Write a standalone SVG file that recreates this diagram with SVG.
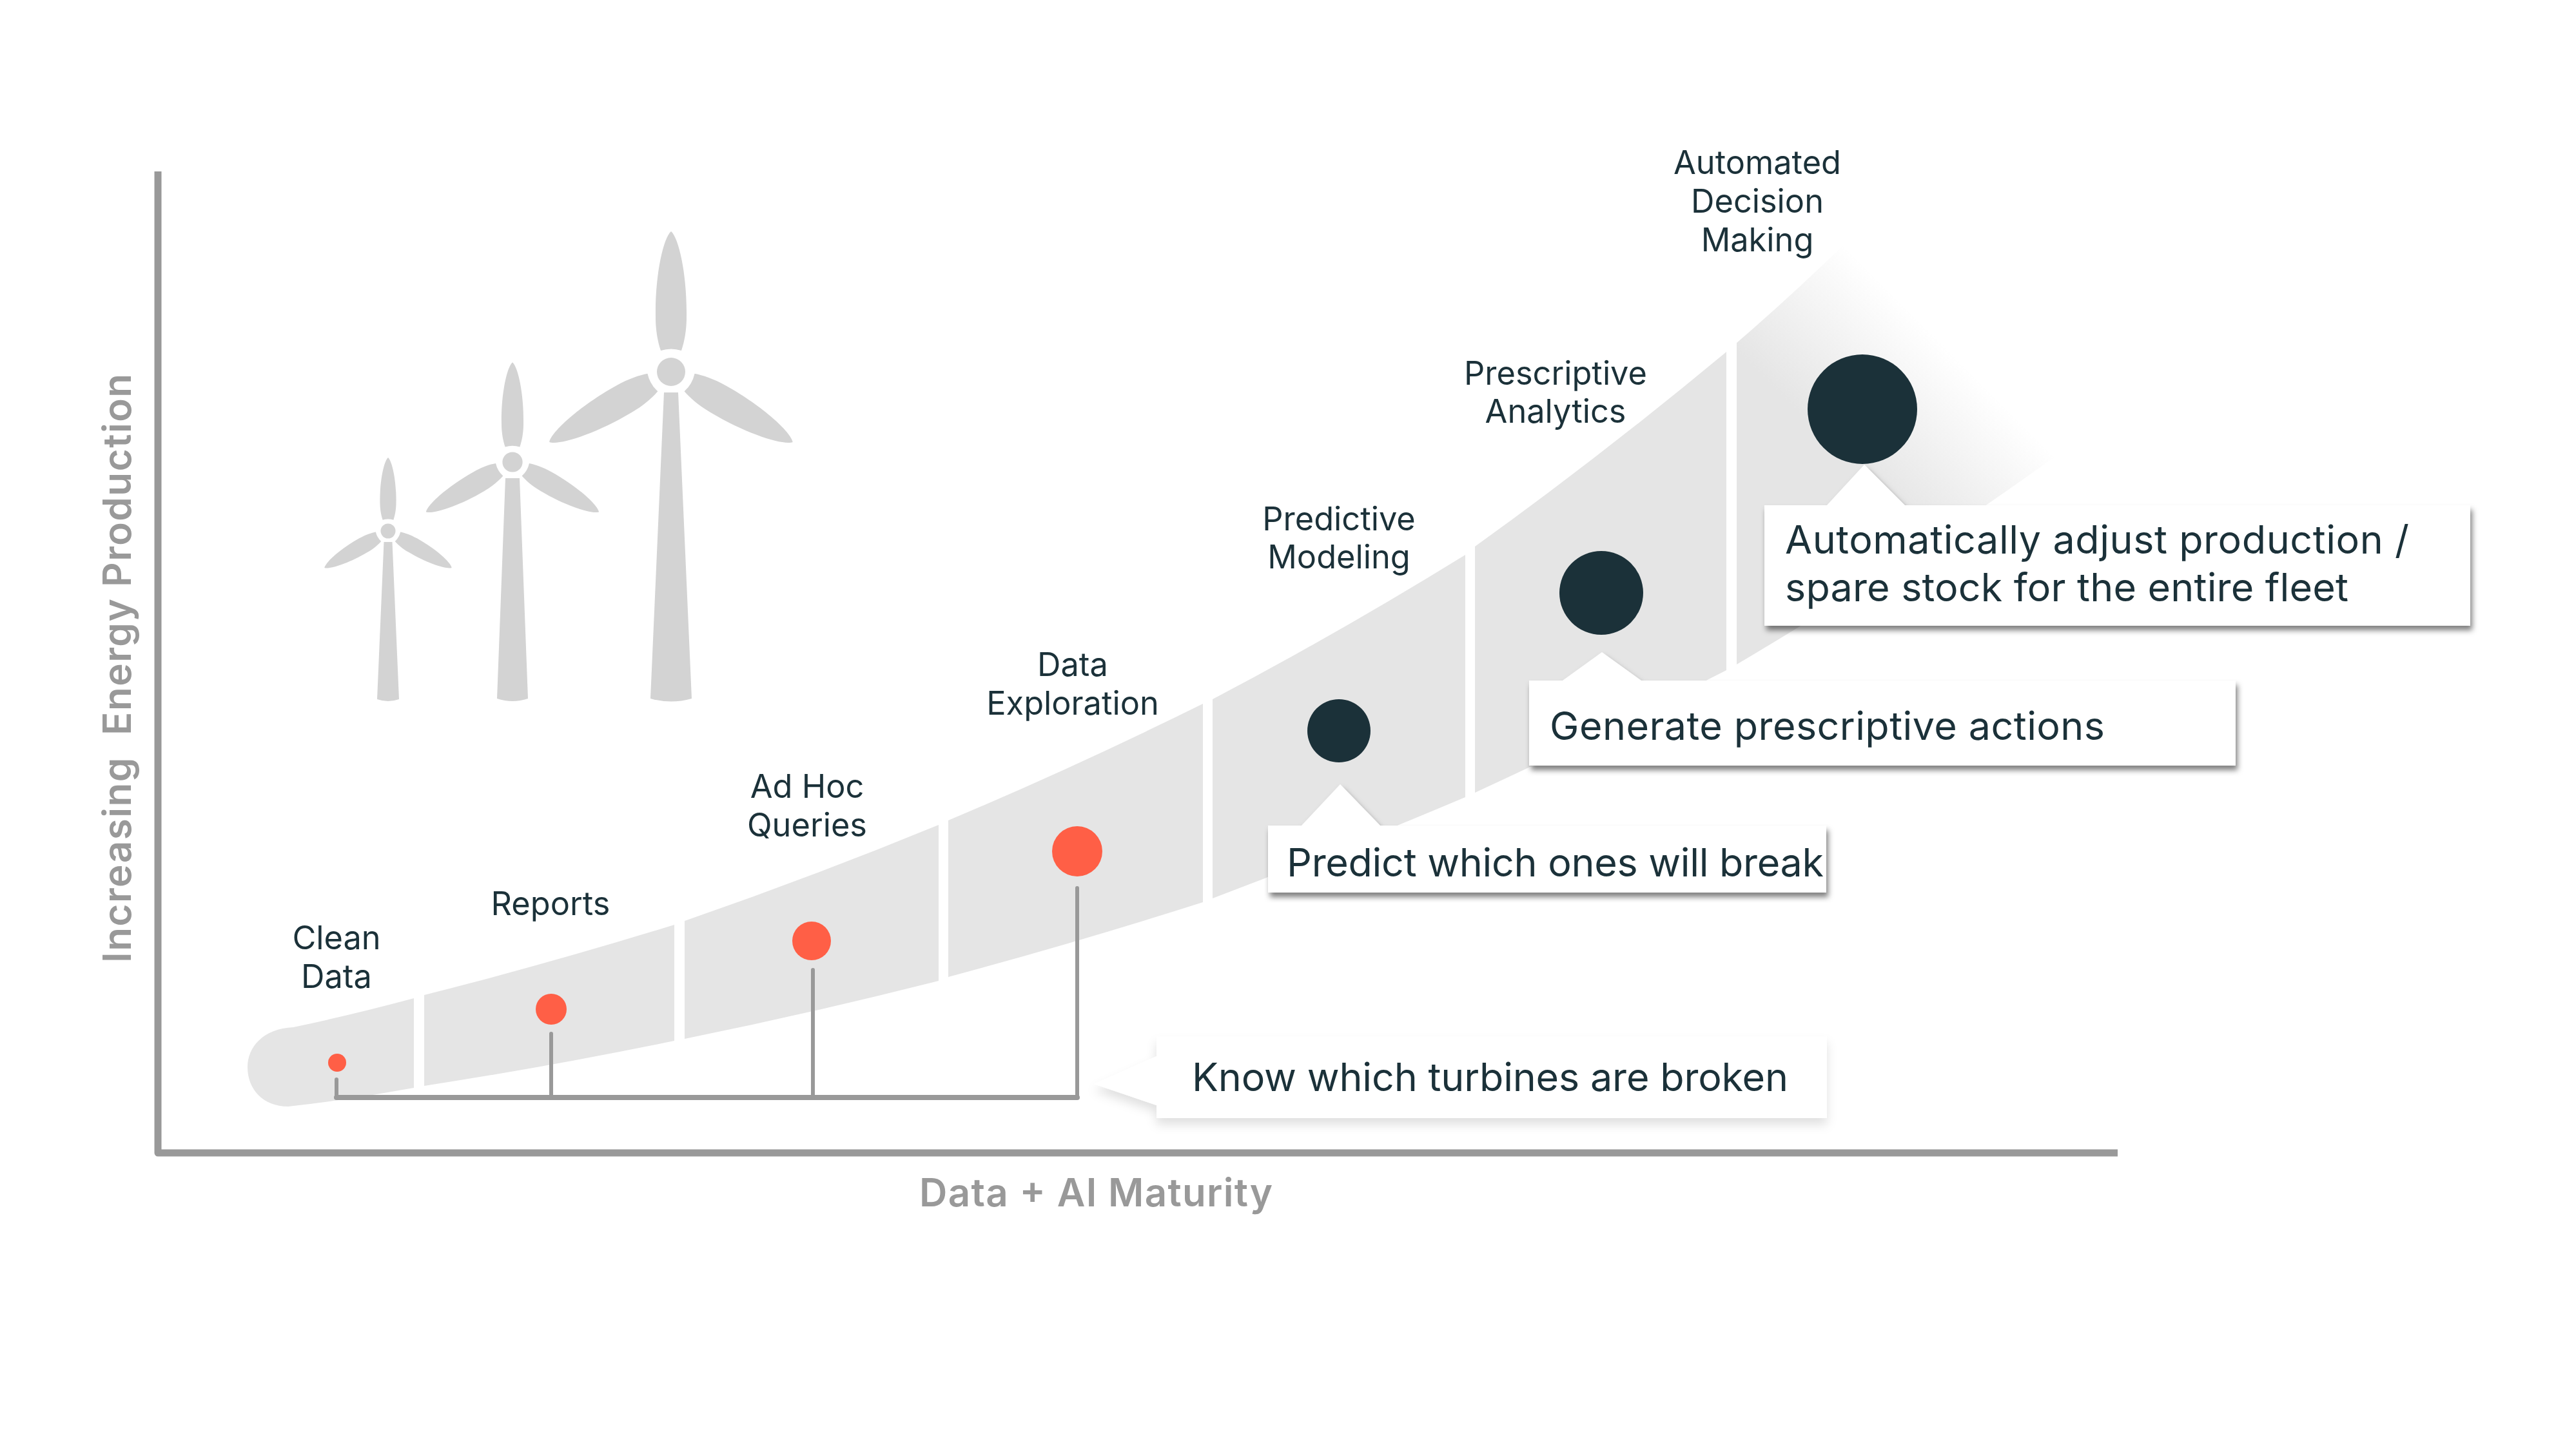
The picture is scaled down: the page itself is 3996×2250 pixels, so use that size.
<svg xmlns="http://www.w3.org/2000/svg" width="3996" height="2250" viewBox="0 0 3996 2250">
<style>
.band{fill:#e5e5e5}
.tower{fill:#d3d3d3}
.lbl{font-family:"Inter","Liberation Sans",sans-serif;font-size:50.5px;fill:#1b3139;text-anchor:middle}
.cal{font-family:"Inter","Liberation Sans",sans-serif;font-size:61px;fill:#1b3139}
.axis{font-family:"Inter","Liberation Sans",sans-serif;font-size:60px;font-weight:600;fill:#999;text-anchor:middle;white-space:pre}
.box{fill:#fff}
.hard{filter:url(#hardShadow)}
.soft{filter:url(#softShadow)}
.dark{fill:#1b3139}
.hot{fill:#ff5f46}
.con{fill:none;stroke:#999;stroke-linecap:round;stroke-linejoin:round}
</style>
<defs>
<linearGradient id="fade" gradientUnits="userSpaceOnUse" x1="2700" y1="550" x2="2865" y2="385">
<stop offset="0" stop-color="#e5e5e5"/><stop offset="1" stop-color="#e5e5e5" stop-opacity="0"/>
</linearGradient>
<filter id="hardShadow" x="-5%" y="-10%" width="110%" height="125%"><feDropShadow dx="3" dy="7" stdDeviation="4" flood-color="#000" flood-opacity=".5"/></filter>
<filter id="softShadow" x="-5%" y="-15%" width="110%" height="140%"><feDropShadow dx="0" dy="10" stdDeviation="8" flood-color="#000" flood-opacity=".12"/></filter>
<path id="blade" class="tower" d="M0,-218C12,-208 25,-150 24,-85C24,-62 20,-45 16,-33Q0,-38 -16,-33C-20,-45 -24,-62 -24,-85C-25,-150 -12,-208 0,-218Z"/>
<g id="rotor">
<use href="#blade"/><use href="#blade" transform="rotate(120)"/><use href="#blade" transform="rotate(-120)"/>
<circle class="tower" r="22"/>
</g>
</defs>
<rect width="3996" height="2250" fill="#fff"/>

<g id="curve-band">
<path id="seg-clean-data" class="band" d="M642,1549Q545,1575 455,1594C408,1596 384,1625 384,1656C384,1690 408,1717 447,1717Q545,1706 642,1688Z"/>
<path id="seg-reports" class="band" d="M658,1544Q852,1495 1046,1435V1615Q852,1655 658,1685Z"/>
<path id="seg-ad-hoc" class="band" d="M1062,1429Q1259,1361 1456,1280V1522Q1259,1572 1062,1612Z"/>
<path id="seg-exploration" class="band" d="M1471,1273Q1668,1190 1866,1092V1400Q1668,1463 1471,1516Z"/>
<path id="seg-predictive" class="band" d="M1881,1085Q2077,982 2273,861V1237Q2077,1320 1881,1394Z"/>
<path id="seg-prescriptive" class="band" d="M2288,848Q2483,708 2678,546V1040Q2483,1140 2288,1230Z"/>
<path id="seg-automated" fill="url(#fade)" d="M2694,532Q2780,458 2865,375L3200,700Q2950,880 2694,1031Z"/>
</g>

<g id="axes">
<path class="con" style="stroke-width:11;stroke-linecap:butt" d="M245,266V1789H3285"/>
<text class="axis" x="1700" y="1872" textLength="548">Data + AI Maturity</text>
<text class="axis" transform="translate(203,1037) rotate(-90)" textLength="914">Increasing  Energy Production</text>
</g>

<g id="turbines">
<g id="turbine-small"><path class="tower" d="M595.5,841H608.5L619,1085Q602,1091 585,1085Z"/><use href="#rotor" transform="translate(602,824) scale(.523)"/></g>
<g id="turbine-medium"><path class="tower" d="M784,742H806L819,1084Q795,1092 771,1084Z"/><use href="#rotor" transform="translate(795,717) scale(.71)"/></g>
<g id="turbine-large"><path class="tower" d="M1030,609H1052L1073,1084Q1041,1093 1009,1084Z"/><use href="#rotor" transform="translate(1041,577)"/></g>
</g>

<g id="connectors">
<path class="con" style="stroke-width:8" d="M522,1703H1671"/>
<path class="con" style="stroke-width:6" d="M522,1675V1703M855,1604V1703M1261,1505V1703M1671,1378V1703"/>
</g>

<g id="clean-data"><circle class="hot" cx="523" cy="1649" r="14"/><text class="lbl" x="522" y="1473">Clean</text><text class="lbl" x="522" y="1533">Data</text></g>
<g id="reports"><circle class="hot" cx="855" cy="1566" r="24"/><text class="lbl" x="854" y="1420">Reports</text></g>
<g id="ad-hoc-queries"><circle class="hot" cx="1259" cy="1460" r="30"/><text class="lbl" x="1252" y="1238">Ad Hoc</text><text class="lbl" x="1252" y="1298">Queries</text></g>
<g id="data-exploration"><circle class="hot" cx="1671" cy="1321" r="39"/><text class="lbl" x="1664" y="1049">Data</text><text class="lbl" x="1664" y="1109">Exploration</text></g>
<g id="predictive-modeling"><circle class="dark" cx="2077" cy="1134" r="49"/><text class="lbl" x="2077" y="823">Predictive</text><text class="lbl" x="2077" y="882">Modeling</text></g>
<g id="prescriptive-analytics"><circle class="dark" cx="2484" cy="920" r="65"/><text class="lbl" x="2413" y="597">Prescriptive</text><text class="lbl" x="2413" y="656">Analytics</text></g>
<g id="automated-decision-making"><circle class="dark" cx="2889" cy="635" r="85"/><text class="lbl" x="2726" y="270">Automated</text><text class="lbl" x="2726" y="330">Decision</text><text class="lbl" x="2726" y="390">Making</text></g>

<g id="callout-know"><path class="box soft" d="M1794,1608H2834V1735H1794V1715L1697,1682L1794,1639Z"/><text class="cal" x="1849" y="1693" textLength="925">Know which turbines are broken</text></g>
<g id="callout-predict"><path class="box hard" d="M1967,1281H2019L2079,1217L2141,1281H2833V1385H1967Z"/><text class="cal" x="1996" y="1360" textLength="833">Predict which ones will break</text></g>
<g id="callout-generate"><path class="box hard" d="M2372,1056H2424L2485,1012L2546,1056H3468V1188H2372Z"/><text class="cal" x="2404" y="1148" textLength="861">Generate prescriptive actions</text></g>
<g id="callout-automatically"><path class="box hard" d="M2737,784H2834L2892,721L2955,784H3832V971H2737Z"/><text class="cal" x="2769" y="859" textLength="968">Automatically adjust production /</text><text class="cal" x="2769" y="933" textLength="874">spare stock for the entire fleet</text></g>
</svg>
